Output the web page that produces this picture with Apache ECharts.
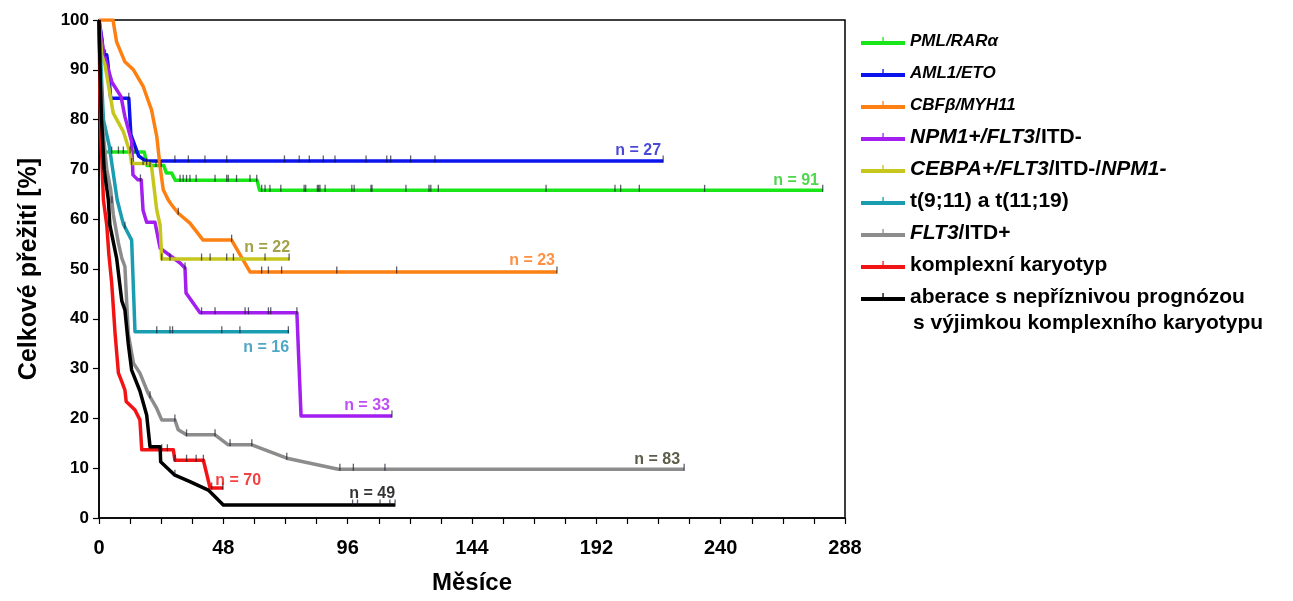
<!DOCTYPE html>
<html>
<head>
<meta charset="utf-8">
<script src="https://cdn.jsdelivr.net/npm/echarts@6/dist/echarts.min.js"></script>
<style>
  html, body { margin: 0; padding: 0; background: #fff; }
  #chart { width: 1293px; height: 601px; }
</style>
</head>
<body>
<div id="chart"></div>
<script>
// Overall survival by cytogenetic / molecular group (Kaplan–Meier)

const groupNames = [
  'PML/RARα', 'AML1/ETO', 'CBFβ/MYH11', 'NPM1+/FLT3/ITD-',
  'CEBPA+/FLT3/ITD-/NPM1-', 't(9;11) a t(11;19)', 'FLT3/ITD+',
  'komplexní karyotyp', 'aberace s nepříznivou prognózou'
];
// legend text with italic gene symbols
const legendLabels = [
  '{s|PML/RARα}', '{s|AML1/ETO}', '{s|CBFβ/MYH11}', '{i|NPM1+/FLT3}{n|/ITD-}',
  '{i|CEBPA+/FLT3}{n|/ITD-/}{i|NPM1-}', '{n|t(9;11) a t(11;19)}', '{i|FLT3}{n|/ITD+}',
  '{n|komplexní karyotyp}', '{n|aberace s nepříznivou prognózou}'
];
const legendSecondLine = 's výjimkou komplexního karyotypu';
const patientCounts = [91, 27, 23, 33, 22, 16, 83, 70, 49];

// survival curves: [months, % surviving]
const pmlRara = [[0,100],[0.5,88],[1,78],[1.6,73.5],[17.5,73.5],[18.5,70.8],[25,70.8],[26,69.3],[28,69.3],[29.5,67.8],[61,67.8],[62,65.8],[279.5,65.8]];
const aml1Eto = [[0,100],[1.2,96],[1.6,93],[3,93],[3.5,91],[4.5,84.3],[11.5,84.3],[12.3,77],[15.3,72.7],[18,71.7],[217.8,71.7]];
const cbfbMyh11 = [[0,100],[5.4,100],[6.8,95.6],[10,91.6],[13.3,90],[17.1,86.6],[20.3,81.9],[22.3,76.6],[23.6,70.5],[24.8,65.9],[26.7,63.9],[28,62.9],[30.6,61.2],[35.1,59.2],[40.2,55.8],[51.2,55.8],[58.3,49.4],[176.8,49.4]];
const npm1 = [[0,100],[1,96],[2,93],[5,87.5],[8.5,84.6],[10,80.6],[12.6,75.6],[13.1,68.9],[15,67.9],[16.3,67.9],[17,61.8],[18.4,59.4],[21.6,59.4],[23.6,54.2],[31.3,51.2],[33.2,50.2],[33.6,45.2],[39,41.2],[76.4,41.2],[78,20.5],[113.1,20.5]];
const cebpa = [[0,100],[1,93],[2.3,91],[5.5,81.3],[9.4,77.6],[12,73.3],[12.6,71.2],[19.7,71.2],[20.3,70.5],[22.3,61.8],[23.6,58.8],[24.2,52],[73.4,52]];
const mll = [[0,100],[1,88],[1.7,80],[4,74.6],[7,63.9],[9.4,59],[12.6,55.8],[13.9,37.4],[73.4,37.4]];
const flt3Itd = [[0,100],[0.6,88],[1.5,78],[3,70],[4.5,66],[5.5,61],[7.5,55.2],[8.8,52.2],[10,50.5],[11.3,37],[13.3,31.1],[15.8,29.1],[19,25],[22.3,22],[24.2,19.7],[29.3,19.7],[30.6,17.7],[33.8,16.7],[44.8,16.7],[49.9,14.7],[59,14.7],[72.5,12],[92.4,9.8],[225.9,9.8]];
const complexKaryotype = [[0,100],[0.4,85],[0.8,76],[1.7,63.9],[3,58.8],[3.8,53],[4.9,47.2],[6.2,37.1],[7.5,29.1],[8.8,27.4],[10,25.7],[10.5,23.4],[13.9,21.7],[15.8,19.7],[16.5,13.7],[28.7,13.7],[29.3,11.6],[40.3,11.6],[42.9,6],[48,6]];
const adverse = [[0,100],[0.5,88],[1,80],[2,70],[3.6,63.9],[4.2,58.8],[6.8,52.2],[8.8,43.6],[10,41.8],[11.3,35],[12.6,29.7],[15.8,25.5],[18.4,20.7],[19.7,14.3],[23.6,14.3],[23.8,11.3],[29.3,8.6],[35.1,7.3],[42.2,5.6],[48,2.6],[114.3,2.6]];

// censored observations (months)
const pmlRaraCens = [4.9,7.5,9.4,12,13.9,19.7,22,24,31.3,32.5,33.8,35.1,37.5,44.8,49.3,49.9,53.1,58.3,60.9,62.8,64.1,66,70.2,79.2,79.8,84.3,84.8,85.3,87.3,97.6,98.5,105,105.4,118.5,127.4,128.1,131,172.6,199.2,201.4,208.6,233.8,279.4];
const aml1EtoCens = [2.5,11.5,29.3,34.5,40.9,49.3,71.6,77.3,81.2,86.6,91.1,103.1,111.1,112.6,120.3,129.7,217.8];
const cbfbMyh11Cens = [30.6,51.2,62.8,65.4,70.5,91.8,114.9,176.8];
const npm1Cens = [16,33.2,39.6,44.8,56.4,57.7,65.4,66.3,76.4,113.1];
const cebpaCens = [12.6,17,18.4,24.2,27.4,39.6,42.9,49.3,51.9,64.1,73.4];
const mllCens = [10,22.3,27.4,28.4,47.4,54.4,73.1];
const flt3ItdCens = [5,19.7,29.3,33.8,44.8,50.6,59,72.5,93,98.2,110.4,225.9];
const complexKaryotypeCens = [24.2,26.4,29.3,33.8,37.5,40.3,43.5,47.8];
const adverseCens = [29.3,97.9,99.8,108.5,112.3,114.3];

// axis ticks
const xTicks = { min: 0, max: 288, step: 48 };
const yTicks = { min: 0, max: 100, step: 10 };

const curves = [pmlRara, aml1Eto, cbfbMyh11, npm1, cebpa, mll, flt3Itd, complexKaryotype, adverse];
const censored = [pmlRaraCens, aml1EtoCens, cbfbMyh11Cens, npm1Cens, cebpaCens, mllCens, flt3ItdCens, complexKaryotypeCens, adverseCens];

const lineColors = ['#19e619', '#0b14ec', '#ff8012', '#a31ff0', '#c6c61c', '#1a9db0', '#8c8c8c', '#f21414', '#000000'];
const countColors = ['#22cc22', '#1c1ccc', '#ff7414', '#b022f2', '#8a8a1a', '#2390b6', '#33331c', '#ee1212', '#000000'];
// where each "n = …" label sits relative to the curve's end
const countLabelPlacement = [
  { align: 'right', verticalAlign: 'bottom', offset: [-4, -2] },
  { align: 'right', verticalAlign: 'bottom', offset: [-2, -2] },
  { align: 'right', verticalAlign: 'bottom', offset: [-2, -3] },
  { align: 'right', verticalAlign: 'bottom', offset: [-2, -2] },
  { align: 'right', verticalAlign: 'bottom', offset: [1, -3] },
  { align: 'right', verticalAlign: 'top', offset: [0, 8] },
  { align: 'right', verticalAlign: 'bottom', offset: [-4, -2] },
  { align: 'left', verticalAlign: 'bottom', offset: [-8, 0] },
  { align: 'right', verticalAlign: 'bottom', offset: [0, -3] }
];

// survival level on the drawn polyline at time t
function levelAt(curve, t) {
  for (let i = curve.length - 1; i > 0; i--) {
    const a = curve[i - 1], b = curve[i];
    if (t >= a[0] && t <= b[0]) {
      if (b[0] === a[0]) return b[1];
      return a[1] + (b[1] - a[1]) * (t - a[0]) / (b[0] - a[0]);
    }
  }
  return curve[curve.length - 1][1];
}

const FONT = '"Liberation Sans", Arial, sans-serif';
const series = [];
curves.forEach((curve, i) => {
  series.push({
    name: groupNames[i],
    type: 'line',
    data: curve,
    showSymbol: false,
    symbol: 'none',
    color: lineColors[i],
    lineStyle: { width: 3.5, color: lineColors[i], join: 'round' },
    z: 2 + i * 0.01,
    animation: false
  });
});
curves.forEach((curve, i) => {
  series.push({
    name: 'cens' + i,
    type: 'scatter',
    data: censored[i].map(t => [t, levelAt(curve, t)]),
    symbol: 'rect',
    symbolSize: [1.3, 7],
    symbolOffset: [0, -2],
    itemStyle: { color: 'rgba(20,20,40,0.85)' },
    z: 4,
    silent: true,
    animation: false
  });
});
curves.forEach((curve, i) => {
  const p = countLabelPlacement[i];
  series.push({
    name: 'count' + i,
    type: 'scatter',
    data: [curve[curve.length - 1]],
    symbolSize: 0,
    label: {
      show: true,
      position: 'inside',
      formatter: 'n = ' + patientCounts[i],
      align: p.align,
      verticalAlign: p.verticalAlign,
      offset: p.offset,
      color: countColors[i],
      fontFamily: FONT,
      fontWeight: 'bold',
      fontSize: 16
    },
    z: 5,
    silent: true,
    animation: false
  });
});

const chart = echarts.init(document.getElementById('chart'), null, { renderer: 'canvas' });
chart.setOption({
  animation: false,
  backgroundColor: '#fff',
  grid: {
    left: 99, top: 20, width: 746, height: 498,
    show: true, borderColor: '#000', borderWidth: 1.5, backgroundColor: 'transparent'
  },
  xAxis: {
    type: 'value',
    min: xTicks.min, max: xTicks.max, interval: xTicks.step,
    name: 'Měsíce',
    nameLocation: 'middle',
    nameGap: 53,
    nameTextStyle: { fontFamily: FONT, fontWeight: 'bold', fontSize: 24, color: '#000' },
    axisLine: { show: true, onZero: false, lineStyle: { color: '#000', width: 1.5 } },
    axisTick: { show: true, length: 6, lineStyle: { color: '#000', width: 1.2 } },
    minorTick: { show: true, splitNumber: 4, length: 6, lineStyle: { color: '#000', width: 1.2 } },
    splitLine: { show: false },
    axisLabel: { fontFamily: FONT, fontWeight: 'bold', fontSize: 20, color: '#000', margin: 20 }
  },
  yAxis: {
    type: 'value',
    min: yTicks.min, max: yTicks.max, interval: yTicks.step,
    name: 'Celkové přežití [%]',
    nameLocation: 'middle',
    nameRotate: 90,
    nameGap: 57,
    nameTextStyle: { fontFamily: FONT, fontWeight: 'bold', fontSize: 25, color: '#000' },
    axisLine: { show: true, onZero: false, lineStyle: { color: '#000', width: 1.5 } },
    axisTick: { show: true, length: 6, lineStyle: { color: '#000', width: 1.2 } },
    splitLine: { show: false },
    axisLabel: { fontFamily: FONT, fontWeight: 'bold', fontSize: 17, color: '#000', margin: 10 }
  },
  legend: {
    orient: 'vertical',
    left: 856,
    top: 25,
    itemWidth: 44,
    itemHeight: 8,
    itemGap: 10,
    icon: 'path://M0,4h44v4h-44z M21.4,0h1.3v6h-1.3z',
    data: groupNames,
    formatter: name => legendLabels[groupNames.indexOf(name)],
    selectedMode: false,
    textStyle: {
      color: '#000',
      fontFamily: FONT,
      fontSize: 21,
      lineHeight: 22,
      rich: {
        s: { fontFamily: FONT, fontWeight: 'bold', fontStyle: 'italic', fontSize: 17, lineHeight: 22, color: '#000' },
        i: { fontFamily: FONT, fontWeight: 'bold', fontStyle: 'italic', fontSize: 21, lineHeight: 22, color: '#000' },
        n: { fontFamily: FONT, fontWeight: 'bold', fontSize: 21, lineHeight: 22, color: '#000' }
      }
    }
  },
  graphic: [{
    type: 'text',
    left: 913,
    top: 313,
    style: { text: legendSecondLine, fontFamily: FONT, fontWeight: 'bold', fontSize: 21, fill: '#000' }
  }],
  series: series
});
</script>
</body>
</html>
